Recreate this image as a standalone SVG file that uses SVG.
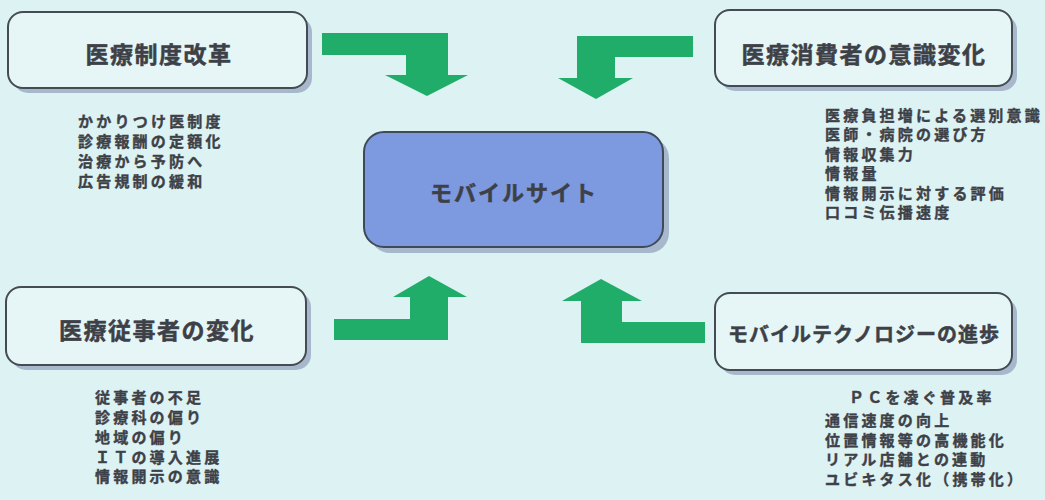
<svg xmlns="http://www.w3.org/2000/svg" width="1045" height="500" viewBox="0 0 1045 500">
<style>
.bg{fill:#ddf2f3}
.box{fill:#e6f6f6;stroke:#454b52;stroke-width:2}
.shadow{fill:#a8b8cc}
.center{fill:#7d99df;stroke:#3f4a58;stroke-width:2}
.title{font-family:"Noto Sans CJK JP","Noto Sans",sans-serif;font-weight:700;fill:#3d4147;stroke:#3d4147;stroke-width:0.5;text-anchor:middle}
.item{font-family:"Noto Sans CJK JP","Noto Sans",sans-serif;font-weight:700;font-size:15px;letter-spacing:3.2px;fill:#3d4147;stroke:#3d4147;stroke-width:0.4}
.arrow{fill:#1fad69}
</style>
<rect class="bg" x="0" y="0" width="1045" height="500"/>

<g id="connectors">
<polygon class="arrow" points="322,33 448,33 448,75 468,75 427,96 385,75 406,75 406,55 322,55"/>
<polygon class="arrow" points="693,36 577,36 577,78 558,78 596,99 633,78 615,78 615,57 693,57"/>
<polygon class="arrow" points="334,340 448,340 448,297 467,297 429,276 393,297 410,297 410,319 334,319"/>
<polygon class="arrow" points="705,343 581,343 581,301 562,301 601,279 642,301 622,301 622,322 705,322"/>
</g>

<g id="node-seido">
<rect class="shadow" x="13" y="17" width="299" height="76" rx="15"/>
<rect class="box" x="8" y="12" width="299" height="76" rx="15"/>
<text class="title" x="159" y="62.5" font-size="23" letter-spacing="1.5">医療制度改革</text>
<text class="item" x="78" y="126.5">かかりつけ医制度</text>
<text class="item" x="78" y="146.5">診療報酬の定額化</text>
<text class="item" x="78" y="166.5">治療から予防へ</text>
<text class="item" x="78" y="186.5">広告規制の緩和</text>
</g>

<g id="node-shohisha">
<rect class="shadow" x="720" y="15" width="297" height="76" rx="15"/>
<rect class="box" x="715" y="10" width="297" height="76" rx="15"/>
<text class="title" x="864" y="62.5" font-size="23" letter-spacing="1.5">医療消費者の意識変化</text>
<text class="item" x="825" y="120.5">医療負担増による選別意識</text>
<text class="item" x="825" y="140">医師・病院の選び方</text>
<text class="item" x="825" y="159.5">情報収集力</text>
<text class="item" x="825" y="179">情報量</text>
<text class="item" x="825" y="198.5">情報開示に対する評価</text>
<text class="item" x="825" y="218">口コミ伝播速度</text>
</g>

<g id="node-mobile-site">
<rect class="shadow" x="370" y="138" width="299" height="115" rx="20"/>
<rect class="center" x="364" y="132" width="299" height="115" rx="20"/>
<text class="title" x="514" y="201" font-size="22" letter-spacing="2">モバイルサイト</text>
</g>

<g id="node-jujisha">
<rect class="shadow" x="11" y="292" width="300" height="78" rx="15"/>
<rect class="box" x="6" y="287" width="300" height="78" rx="15"/>
<text class="title" x="157" y="339" font-size="23" letter-spacing="1.5">医療従事者の変化</text>
<text class="item" x="95" y="402.5">従事者の不足</text>
<text class="item" x="95" y="423">診療科の偏り</text>
<text class="item" x="95" y="443">地域の偏り</text>
<text class="item" x="95" y="462.5">ＩＴの導入進展</text>
<text class="item" x="95" y="481.5">情報開示の意識</text>
</g>

<g id="node-technology">
<rect class="shadow" x="720" y="298" width="297" height="77" rx="15"/>
<rect class="box" x="715" y="293" width="297" height="77" rx="15"/>
<text class="title" x="864" y="342" font-size="20" letter-spacing="1">モバイルテクノロジーの進歩</text>
<text class="item" x="849" y="403">ＰＣを凌ぐ普及率</text>
<text class="item" x="825" y="425.5">通信速度の向上</text>
<text class="item" x="825" y="445.5">位置情報等の高機能化</text>
<text class="item" x="825" y="464.5">リアル店舗との連動</text>
<text class="item" x="825" y="484.5">ユビキタス化（携帯化）</text>
</g>
</svg>
